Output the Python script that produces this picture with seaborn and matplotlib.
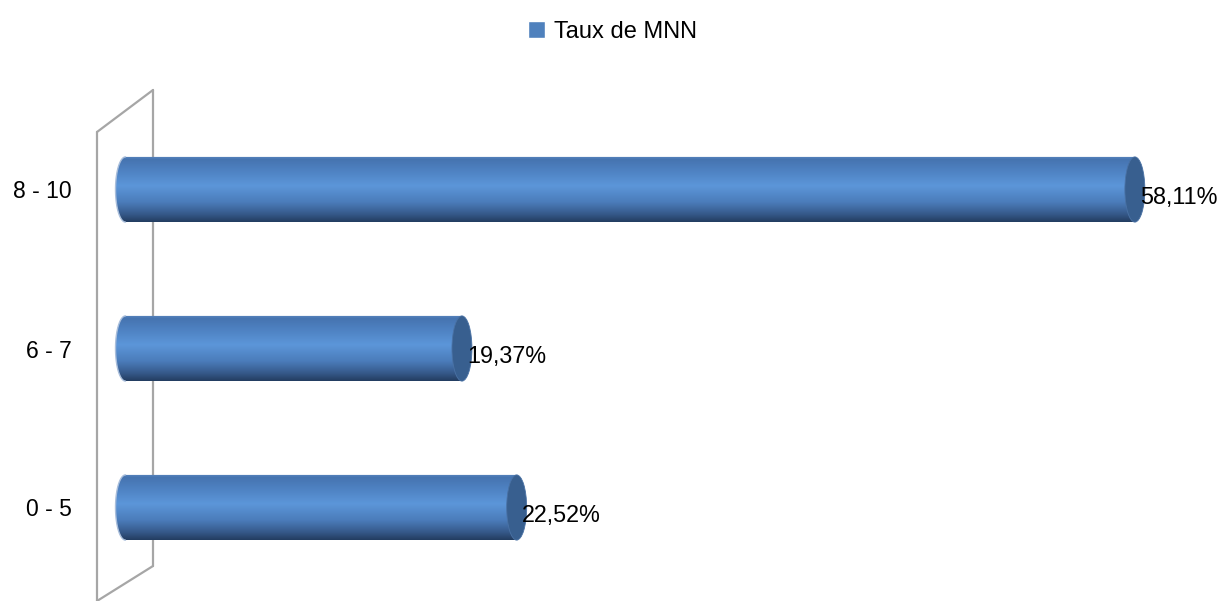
import numpy as np
import pandas as pd
import matplotlib
matplotlib.use("Agg")
import matplotlib.pyplot as plt
import seaborn as sns
from matplotlib.patches import Ellipse, Polygon, Patch
from matplotlib.colors import LinearSegmentedColormap
from matplotlib.lines import Line2D

categories = ["8 - 10", "6 - 7", "0 - 5"]
values = [58.11, 19.37, 22.52]
labels = ["58,11%", "19,37%", "22,52%"]
series_name = "Taux de MNN"

sns.set_theme(style="white")
plt.rcParams["font.family"] = ["Liberation Sans", "DejaVu Sans"]

W, H = 1225, 601
fig = plt.figure(figsize=(W / 100, H / 100), dpi=100)

# axes: x=0 at px 125.5, 17.37 px/unit ; y index0 at px 189.5, 159 px/unit
x0px, ppu = 125.5, 17.37
xmin, xmax = -1.5, 63
top_px, bot_px = 90, 600
left_px = x0px + xmin * ppu
ax = fig.add_axes([left_px / W, 1 - bot_px / H, (xmax - xmin) * ppu / W, (bot_px - top_px) / H])
ax.set_zorder(1)

df = pd.DataFrame({"cat": categories, "val": values})
sns.barplot(data=df, x="val", y="cat", orient="h", order=categories,
            width=0.41, color="#4f81bd", ax=ax)

ax.set_xlim(xmin, xmax)
c0 = 189.5
ax.set_ylim((bot_px - c0) / 159, (top_px - c0) / 159)

# wall (decoration, figure pixel space)
wall_col = "#a6a6a6"
def fpx(xs, ys):
    return [x / W for x in xs], [1 - y / H for y in ys]
for xs, ys in [([97, 97], [132, 601]), ([97, 153], [132, 90]),
               ([153, 153], [90, 566]), ([153, 97], [566, 601])]:
    fx, fy = fpx(xs, ys)
    fig.add_artist(Line2D(fx, fy, color=wall_col, lw=1.6, zorder=-1))

cmap = LinearSegmentedColormap.from_list("cyl", [
    (0.0, "#5a86bf"), (0.05, "#4674b0"), (0.2, "#4d80c0"), (0.45, "#5c96d9"),
    (0.7, "#4b7cba"), (0.88, "#36598a"), (1.0, "#233d60")])
grad = np.linspace(0, 1, 256).reshape(-1, 1)

cap_w = 1.15
for patch, lab in zip(ax.patches[:], labels):
    bx, by = patch.get_x(), patch.get_y()
    bw, bh = patch.get_width(), patch.get_height()
    patch.set_visible(False)
    yc = by + bh / 2
    t = np.linspace(np.pi / 2, 3 * np.pi / 2, 60)
    ell = np.column_stack([bx + cap_w / 2 * np.cos(t), yc - bh / 2 * np.sin(t)])
    pts = np.vstack([ell, [[bx + bw, by + bh]], [[bx + bw, by]]])
    clip = Polygon(pts, closed=True, transform=ax.transData)
    im = ax.imshow(grad, cmap=cmap, aspect="auto",
                   extent=(bx - cap_w / 2, bx + bw, by + bh, by),
                   origin="upper", zorder=2, interpolation="bilinear")
    im.set_clip_path(clip)
    # left rim (half ellipse outline)
    ax.plot(ell[:, 0], ell[:, 1], color="#a9bedb", lw=1.0, zorder=2.5)
    # right cap
    ax.add_patch(Ellipse((bx + bw, yc), cap_w, bh, facecolor="#385f8f",
                         edgecolor="#4a72a5", lw=0.6, zorder=3))
    ax.annotate(lab, (bx + bw, yc), xytext=(4, -6), textcoords="offset points",
                ha="left", va="center", fontsize=16.8, color="black", zorder=4)

ax.set_xlabel("")
ax.set_ylabel("")
ax.set_xticks([])
ax.tick_params(axis="y", length=0, pad=(left_px - 72) * 0.72, labelsize=16.5,
               labelcolor="black")
for s in ax.spines.values():
    s.set_visible(False)
ax.set_facecolor("none")

leg = fig.legend(handles=[Patch(facecolor="#4f81bd", label=series_name)],
                 loc="center", bbox_to_anchor=(0.5, 1 - 32 / H), frameon=False,
                 fontsize=17, handlelength=0.7, handleheight=0.7, handletextpad=0.4)
for txt in leg.get_texts():
    txt.set_color("black")

fig.savefig("out.png", dpi=100)
